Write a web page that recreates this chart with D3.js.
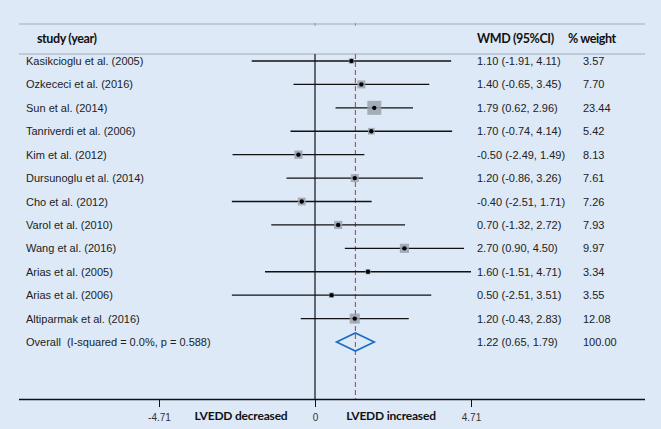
<!DOCTYPE html>
<html><head><meta charset="utf-8">
<script src="https://cdn.jsdelivr.net/npm/d3@7"></script>
<style>
html,body{margin:0;padding:0;background:#dde9f7;}
svg{display:block;}
</style></head>
<body>
<script>
const studies = ["Kasikcioglu et al. (2005)","Ozkececi et al. (2016)","Sun et al. (2014)","Tanriverdi et al. (2006)","Kim et al. (2012)","Dursunoglu et al. (2014)","Cho et al. (2012)","Varol et al. (2010)","Wang et al. (2016)","Arias et al. (2005)","Arias et al. (2006)","Altiparmak et al. (2016)"];
const wmd    = [1.10, 1.40, 1.79, 1.70, -0.50, 1.20, -0.40, 0.70, 2.70, 1.60, 0.50, 1.20];
const ciLow  = [-1.91, -0.65, 0.62, -0.74, -2.49, -0.86, -2.51, -1.32, 0.90, -1.51, -2.51, -0.43];
const ciHigh = [4.11, 3.45, 2.96, 4.14, 1.49, 3.26, 1.71, 2.72, 4.50, 4.71, 3.51, 2.83];
const weights = [3.57, 7.70, 23.44, 5.42, 8.13, 7.61, 7.26, 7.93, 9.97, 3.34, 3.55, 12.08];
const overallLabel = "Overall  (I-squared = 0.0%, p = 0.588)";
const overall = {wmd: 1.22, lo: 0.65, hi: 1.79, weight: 100.00};
const tickValues = [-4.71, 0, 4.71];
const tickLabels = ["-4.71", "0", "4.71"];

const W = 661, H = 429;
const svg = d3.select("body").append("svg").attr("width", W).attr("height", H);
svg.append("rect").attr("width", W).attr("height", H).attr("fill", "#dde9f7");

const x = d3.scaleLinear().domain([-4.71, 4.71]).range([159, 471]);
const rows = d3.range(studies.length + 1);
const y = d3.scalePoint().domain(rows).range([61, 342]);
const boxSide = d3.scaleSqrt().domain([0, 23.44]).range([0, 14]);

const headFont = "Lato, 'Open Sans', sans-serif";
const bodyFont = "'Liberation Sans', Arial, sans-serif";

[24, 54].forEach(yy => svg.append("line").attr("x1", 19).attr("x2", 645).attr("y1", yy).attr("y2", yy)
  .attr("stroke", "#b3bfcc").attr("stroke-width", 1.6));
[0, overall.wmd].forEach(v => svg.append("line").attr("x1", x(v)).attr("x2", x(v)).attr("y1", 23).attr("y2", 26)
  .attr("stroke", "#8a96a3").attr("stroke-width", 1));

const hdr = svg.append("g").attr("font-family", headFont).attr("font-weight", "bold").attr("font-size", 12.5)
  .attr("letter-spacing", "-0.4").attr("fill", "#111");
hdr.append("text").attr("x", 37).attr("y", 42.5).text("study (year)");
hdr.append("text").attr("x", 477).attr("y", 42.5).text("WMD (95%CI)");
hdr.append("text").attr("x", 568).attr("y", 42.5).text("% weight");

const axisY = 399;
svg.append("line").attr("x1", x(0)).attr("x2", x(0)).attr("y1", 54).attr("y2", axisY)
  .attr("stroke", "#111").attr("stroke-width", 1.2);
svg.append("line").attr("x1", x(overall.wmd)).attr("x2", x(overall.wmd)).attr("y1", 54).attr("y2", axisY)
  .attr("stroke", "#b5475a").attr("stroke-width", 1.1).attr("stroke-dasharray", "5,3");

const g = svg.append("g");
studies.forEach((s, i) => {
  const yy = y(i);
  g.append("line").attr("x1", x(ciLow[i])).attr("x2", x(ciHigh[i])).attr("y1", yy).attr("y2", yy)
    .attr("stroke", "#111").attr("stroke-width", 1.4);
  const side = boxSide(weights[i]);
  g.append("rect").attr("x", x(wmd[i]) - side / 2).attr("y", yy - side / 2).attr("width", side).attr("height", side)
    .attr("fill", "#9aa2ab").attr("fill-opacity", 0.85);
  g.append("circle").attr("cx", x(wmd[i])).attr("cy", yy).attr("r", 2.2).attr("fill", "#000");
});

const oy = y(studies.length);
svg.append("path")
  .attr("d", `M${x(overall.lo)},${oy} L${x(overall.wmd)},${oy - 9} L${x(overall.hi)},${oy} L${x(overall.wmd)},${oy + 9} Z`)
  .attr("fill", "none").attr("stroke", "#1a6cc4").attr("stroke-width", 1.6);

const t = svg.append("g").attr("font-family", bodyFont).attr("font-size", 11).attr("fill", "#222");
const fmt = d3.formatLocale({decimal: ".", thousands: ",", grouping: [3], currency: ["", ""], minus: "-"}).format(".2f");
const labels = studies.concat([overallLabel]);
const est = wmd.concat([overall.wmd]), lo = ciLow.concat([overall.lo]), hi = ciHigh.concat([overall.hi]);
const wts = weights.concat([overall.weight]);
labels.forEach((s, i) => {
  const yy = y(i) + 4;
  t.append("text").attr("x", 26).attr("y", yy).style("white-space", "pre").text(s);
  t.append("text").attr("x", 477).attr("y", yy).text(`${fmt(est[i])} (${fmt(lo[i])}, ${fmt(hi[i])})`);
  t.append("text").attr("x", 583).attr("y", yy).text(fmt(wts[i]));
});

const axis = d3.axisBottom(x).tickValues(tickValues).tickSize(8).tickSizeOuter(0)
  .tickFormat((d, i) => tickLabels[i]);
const ag = svg.append("g").attr("transform", `translate(0,${axisY})`).call(axis);
ag.select(".domain").attr("d", `M19,0.5H645`).attr("stroke", "#111").attr("stroke-width", 1.3);
ag.selectAll(".tick line").attr("stroke", "#111");
ag.selectAll(".tick text").attr("font-family", bodyFont).attr("font-size", 10).attr("fill", "#333").attr("dy", "1.1em");

const bl = svg.append("g").attr("font-family", headFont).attr("font-weight", "bold").attr("font-size", 12)
  .attr("letter-spacing", "-0.2").attr("fill", "#111").attr("text-anchor", "middle");
bl.append("text").attr("x", 241).attr("y", 420).text("LVEDD decreased");
bl.append("text").attr("x", 391).attr("y", 420).text("LVEDD increased");
</script>
</body></html>
